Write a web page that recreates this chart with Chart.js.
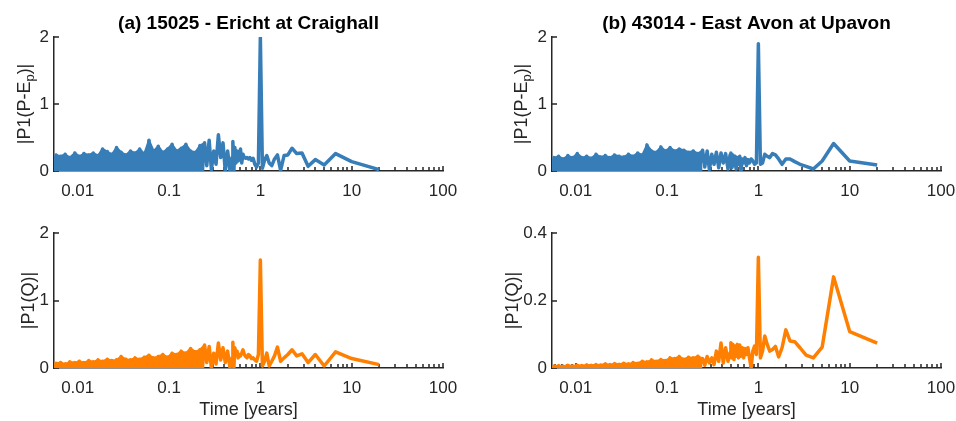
<!DOCTYPE html>
<html>
<head>
<meta charset="utf-8">
<script src="https://cdn.jsdelivr.net/npm/chart.js@4.4.1/dist/chart.umd.min.js"></script>
<style>
  body { margin: 0; background: #fff; }
  #wrap { position: relative; width: 956px; height: 421px; }
  .panel { position: absolute; }
</style>
</head>
<body>
<div id="wrap">
  <div class="panel" style="left:0;top:0"><canvas id="a_pe" width="478" height="210"></canvas></div>
  <div class="panel" style="left:478px;top:0"><canvas id="b_pe" width="478" height="210"></canvas></div>
  <div class="panel" style="left:0;top:210px"><canvas id="a_q" width="478" height="211"></canvas></div>
  <div class="panel" style="left:478px;top:210px"><canvas id="b_q" width="478" height="211"></canvas></div>
</div>
<script>
// period (years) of each plotted spectrum point, shared by all panels
var periods = [
  0.0055, 0.0058, 0.0062, 0.0065, 0.0069, 0.0073, 0.0078, 0.0082, 0.0087, 0.0093,
  0.0098, 0.0104, 0.011, 0.0117, 0.0124, 0.0132, 0.014, 0.0148, 0.0157, 0.0167,
  0.0177, 0.0187, 0.0199, 0.0211, 0.0223, 0.0237, 0.0251, 0.0266, 0.0282, 0.0299,
  0.0317, 0.0336, 0.0356, 0.0378, 0.04, 0.0425, 0.045, 0.0477, 0.0506, 0.0536,
  0.0569, 0.0603, 0.0639, 0.0678, 0.0718, 0.0762, 0.0808, 0.0856, 0.0908, 0.0962,
  0.102, 0.108, 0.115, 0.121, 0.129, 0.136, 0.145, 0.153, 0.163, 0.172,
  0.183, 0.194, 0.205, 0.218, 0.231, 0.245, 0.259, 0.275, 0.291, 0.309,
  0.327, 0.347, 0.368, 0.39, 0.413, 0.438, 0.465, 0.49,
  0.5, 0.513, 0.526, 0.541, 0.556, 0.571, 0.588, 0.606, 0.625, 0.645,
  0.667, 0.69, 0.714, 0.741, 0.769, 0.8, 0.833, 0.87, 0.909, 0.952,
  1, 1.053, 1.111, 1.176, 1.25, 1.333, 1.429, 1.538, 1.667, 1.818,
  2, 2.222, 2.5, 2.857, 3.333, 4, 5, 6.667, 10, 20
];

// (a) 15025 Ericht at Craighall, |P1(P-Ep)|
var erichtPE = [
  0.05, 0.24, 0.02, 0.22, 0.04, 0.25, 0.01, 0.2, 0.03, 0.27,
  0.02, 0.22, 0.04, 0.26, 0.01, 0.24, 0.03, 0.27, 0.02, 0.23,
  0.05, 0.33, 0.02, 0.29, 0.04, 0.25, 0.01, 0.35, 0.03, 0.28,
  0.02, 0.24, 0.05, 0.3, 0.02, 0.27, 0.04, 0.33, 0.01, 0.26,
  0.03, 0.46, 0.02, 0.3, 0.05, 0.37, 0.02, 0.28, 0.04, 0.33,
  0.05, 0.4, 0.1, 0.3, 0.06, 0.34, 0.0, 0.4, 0.12, 0.3,
  0.05, 0.28, 0.1, 0.38, 0.03, 0.42, 0.08, 0.46, 0.02, 0.3,
  0.1, 0.54, 0.2, 0.42, 0.0, 0.3, 0.0, 0.2,
  0.44, 0.0, 0.35, 0.12, 0.3, 0.15, 0.2, 0.33, 0.12, 0.25,
  0.2, 0.19, 0.2, 0.18, 0.2, 0.16, 0.19, 0.1, 0.06, 0.12,
  2.0, 0.04, 0.16, 0.23, 0.12, 0.08, 0.18, 0.24, 0.01, 0.23,
  0.24, 0.34, 0.26, 0.27, 0.07, 0.17, 0.09, 0.26, 0.14, 0.02
];

// (b) 43014 East Avon at Upavon, |P1(P-Ep)|
var avonPE = [
  0.04, 0.2, 0.02, 0.22, 0.05, 0.18, 0.01, 0.23, 0.03, 0.2,
  0.02, 0.26, 0.04, 0.2, 0.01, 0.22, 0.05, 0.19, 0.02, 0.25,
  0.03, 0.21, 0.01, 0.23, 0.04, 0.2, 0.02, 0.24, 0.05, 0.22,
  0.01, 0.21, 0.03, 0.25, 0.02, 0.22, 0.04, 0.27, 0.01, 0.24,
  0.03, 0.39, 0.02, 0.3, 0.05, 0.28, 0.01, 0.36, 0.03, 0.3,
  0.04, 0.35, 0.08, 0.3, 0.02, 0.33, 0.1, 0.31, 0.05, 0.28,
  0.12, 0.3, 0.03, 0.26, 0.1, 0.31, 0.06, 0.3, 0.02, 0.25,
  0.1, 0.28, 0.05, 0.27, 0.12, 0.26, 0.03, 0.24,
  0.27, 0.05, 0.24, 0.08, 0.22, 0.03, 0.2, 0.1, 0.22, 0.0,
  0.18, 0.12, 0.2, 0.08, 0.17, 0.12, 0.18, 0.15, 0.1, 0.12,
  1.9, 0.1, 0.12, 0.25, 0.22, 0.2, 0.26, 0.24, 0.18, 0.1,
  0.18, 0.18, 0.14, 0.1, 0.07, 0.03, 0.15, 0.41, 0.15, 0.09
];

// (a) |P1(Q)|
var erichtQ = [
  0.02, 0.07, 0.01, 0.08, 0.03, 0.06, 0.01, 0.09, 0.02, 0.08,
  0.01, 0.1, 0.03, 0.08, 0.02, 0.11, 0.01, 0.09, 0.03, 0.12,
  0.02, 0.1, 0.01, 0.13, 0.03, 0.11, 0.02, 0.12, 0.04, 0.17,
  0.02, 0.13, 0.03, 0.12, 0.01, 0.15, 0.04, 0.13, 0.02, 0.16,
  0.03, 0.19, 0.02, 0.15, 0.05, 0.17, 0.02, 0.2, 0.04, 0.16,
  0.04, 0.22, 0.06, 0.2, 0.03, 0.25, 0.08, 0.22, 0.04, 0.29,
  0.1, 0.24, 0.05, 0.27, 0.02, 0.34, 0.08, 0.32, 0.0, 0.22,
  0.06, 0.37, 0.12, 0.3, 0.08, 0.25, 0.0, 0.15,
  0.38, 0.0, 0.3, 0.2, 0.25, 0.15, 0.2, 0.18, 0.22, 0.27,
  0.2, 0.17, 0.15, 0.2, 0.18, 0.14, 0.15, 0.12, 0.1, 0.2,
  1.6, 0.03, 0.1, 0.22, 0.03, 0.1, 0.18, 0.31, 0.1, 0.15,
  0.2, 0.27, 0.18, 0.21, 0.08, 0.2, 0.03, 0.24, 0.14, 0.05
];

// (b) |P1(Q)|
var avonQ = [
  0.002, 0.006, 0.001, 0.007, 0.002, 0.005, 0.001, 0.008, 0.002, 0.006,
  0.001, 0.008, 0.003, 0.007, 0.001, 0.009, 0.002, 0.008, 0.003, 0.01,
  0.002, 0.009, 0.004, 0.012, 0.002, 0.01, 0.003, 0.013, 0.004, 0.011,
  0.003, 0.014, 0.005, 0.012, 0.003, 0.016, 0.005, 0.014, 0.004, 0.02,
  0.005, 0.018, 0.006, 0.024, 0.005, 0.02, 0.008, 0.025, 0.006, 0.022,
  0.008, 0.03, 0.01, 0.028, 0.006, 0.034, 0.012, 0.026, 0.008, 0.032,
  0.01, 0.03, 0.006, 0.035, 0.012, 0.028, 0.008, 0.034, 0.015, 0.03,
  0.01, 0.05, 0.02, 0.074, 0.015, 0.06, 0.02, 0.045,
  0.075, 0.03, 0.07, 0.025, 0.065, 0.035, 0.07, 0.03, 0.068, 0.035,
  0.06, 0.03, 0.058, 0.04, 0.06, 0.03, 0.0, 0.05, 0.065, 0.04,
  0.328, 0.03, 0.05, 0.095, 0.07, 0.05, 0.055, 0.064, 0.033, 0.06,
  0.113, 0.08, 0.078, 0.06, 0.038, 0.03, 0.062, 0.27, 0.108, 0.074
];

var xTicks = [0.01, 0.1, 1, 10, 100];
var yTicksPE = [0, 1, 2];
var yTicksQa = [0, 1, 2];
var yTicksQb = [0, 0.2, 0.4];

var BLUE = 'rgb(55,126,184)';
var ORANGE = 'rgb(255,127,0)';
var INK = '#262626';
var FAMILY = '"Liberation Sans", Arial, Helvetica, sans-serif';

Chart.defaults.font.family = FAMILY;
Chart.defaults.color = INK;

function toPoints(vals) {
  return periods.map(function (p, i) { return { x: p, y: vals[i] }; });
}

// upper envelope (local peaks) of the densely sampled short periods
function peaksBelow(pts, limit) {
  return pts.filter(function (pt, i) {
    if (pt.x >= limit) return false;
    var prev = i > 0 ? pts[i - 1].y : -1;
    var next = i < pts.length - 1 ? pts[i + 1].y : -1;
    return pt.y >= prev && pt.y >= next || i === 0;
  });
}

// ticks pointing inward, titles and axis labels (the y label carries a subscript)
var matlabAxes = {
  id: 'matlabAxes',
  beforeDatasetsDraw: function (chart) {
    var ctx = chart.ctx, xs = chart.scales.x, ys = chart.scales.y, a = chart.chartArea;
    ctx.save();
    ctx.strokeStyle = INK;
    ctx.lineWidth = 1.5;
    ctx.beginPath();
    for (var e = -3; e <= 2; e++) {
      for (var m = 1; m <= 9; m++) {
        var v = m * Math.pow(10, e);
        if (v < xs.min * 0.999 || v > xs.max * 1.001) continue;
        var px = Math.round(xs.getPixelForValue(v));
        ctx.moveTo(px, a.bottom);
        ctx.lineTo(px, a.bottom - (m === 1 ? 5 : 4));
      }
    }
    ys.ticks.forEach(function (t) {
      var py = Math.round(ys.getPixelForValue(t.value));
      ctx.moveTo(a.left, py);
      ctx.lineTo(a.left + 5, py);
    });
    ctx.stroke();
    ctx.restore();
  },
  afterDraw: function (chart, args, o) {
    var ctx = chart.ctx, a = chart.chartArea;
    ctx.save();
    ctx.fillStyle = INK;
    if (o.title) {
      ctx.fillStyle = '#000';
      ctx.font = 'bold 19px ' + FAMILY;
      ctx.textAlign = 'center';
      ctx.textBaseline = 'alphabetic';
      ctx.fillText(o.title, (a.left + a.right) / 2, a.top - 8);
      ctx.fillStyle = INK;
    }
    if (o.xLabel) {
      ctx.font = '18px ' + FAMILY;
      ctx.textAlign = 'center';
      ctx.textBaseline = 'alphabetic';
      ctx.fillText(o.xLabel, (a.left + a.right) / 2, a.bottom + 47);
    }
    if (o.yLabel) {
      var size = 18, total = 0;
      ctx.translate(a.left - o.yOffset, (a.top + a.bottom) / 2);
      ctx.rotate(-Math.PI / 2);
      ctx.textAlign = 'left';
      ctx.textBaseline = 'middle';
      o.yLabel.forEach(function (p) {
        ctx.font = (p.sub ? Math.round(size * 0.7) : size) + 'px ' + FAMILY;
        p.w = ctx.measureText(p.text).width;
        total += p.w;
      });
      var x0 = -total / 2;
      o.yLabel.forEach(function (p) {
        ctx.font = (p.sub ? Math.round(size * 0.7) : size) + 'px ' + FAMILY;
        ctx.fillText(p.text, x0, p.sub ? size * 0.32 : 0);
        x0 += p.w;
      });
    }
    ctx.restore();
  }
};

function makePanel(id, vals, color, yMax, yTicks, box, labels) {
  var ctx = document.getElementById(id).getContext('2d');
  var pts = toPoints(vals);
  // the short periods are sampled so densely that the trace reads as a solid band
  var band = peaksBelow(pts, 0.25);
  return new Chart(ctx, {
    type: 'line',
    data: {
      datasets: [{
        data: pts,
        borderColor: color,
        borderWidth: 3.5,
        borderJoinStyle: 'round',
        pointRadius: 0,
        tension: 0,
        fill: false
      }, {
        data: band,
        borderColor: color,
        borderWidth: 2,
        borderJoinStyle: 'round',
        backgroundColor: color,
        pointRadius: 0,
        tension: 0,
        fill: 'origin'
      }]
    },
    plugins: [matlabAxes],
    options: {
      responsive: false,
      animation: false,
      events: [],
      layout: { padding: { left: 0, top: box.top, right: box.right, bottom: 0 } },
      plugins: {
        legend: { display: false },
        tooltip: { enabled: false },
        matlabAxes: labels
      },
      scales: {
        x: {
          type: 'logarithmic',
          min: 0.0055,
          max: 100,
          grid: { display: false, drawTicks: false },
          border: { display: true, color: INK, width: 1.5 },
          ticks: {
            autoSkip: false,
            maxRotation: 0,
            padding: 10,
            font: { size: 17 },
            color: INK,
            callback: function (v) { return String(v); }
          },
          afterBuildTicks: function (s) {
            s.ticks = xTicks.map(function (v) { return { value: v }; });
          },
          afterFit: function (s) {
            s.height = box.xh;
            s.paddingLeft = 0; s.paddingRight = 0;
          }
        },
        y: {
          min: 0,
          max: yMax,
          grid: { display: false, drawTicks: false },
          border: { display: true, color: INK, width: 1.5 },
          ticks: { padding: 5, font: { size: 17 }, color: INK },
          afterBuildTicks: function (s) {
            s.ticks = yTicks.map(function (v) { return { value: v }; });
          },
          afterFit: function (s) {
            s.width = box.yw;
            s.paddingTop = 0; s.paddingBottom = 0;
          }
        }
      }
    }
  });
}

var peLabel = [{ text: '|P1(P-E' }, { text: 'p', sub: true }, { text: ')|' }];
var qLabel = [{ text: '|P1(Q)|' }];

makePanel('a_pe', erichtPE, BLUE, 2, yTicksPE,
  { top: 37, right: 35, xh: 39, yw: 54 },
  { title: '(a) 15025 - Ericht at Craighall', yLabel: peLabel, yOffset: 29 });
makePanel('b_pe', avonPE, BLUE, 2, yTicksPE,
  { top: 37, right: 15, xh: 39, yw: 74 },
  { title: '(b) 43014 - East Avon at Upavon', yLabel: peLabel, yOffset: 30 });
makePanel('a_q', erichtQ, ORANGE, 2, yTicksQa,
  { top: 23, right: 35, xh: 53, yw: 54 },
  { xLabel: 'Time [years]', yLabel: qLabel, yOffset: 25 });
makePanel('b_q', avonQ, ORANGE, 0.4, yTicksQb,
  { top: 23, right: 15, xh: 53, yw: 74 },
  { xLabel: 'Time [years]', yLabel: qLabel, yOffset: 39 });
</script>
</body>
</html>
